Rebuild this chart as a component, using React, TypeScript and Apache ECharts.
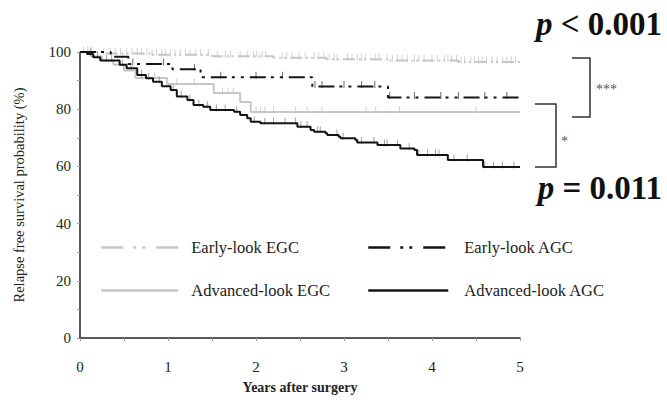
import React, { useEffect, useRef } from "react";
import * as echarts from "echarts";

// ---- data ----
const xTickLabels = [0, 1, 2, 3, 4, 5];
const yTickLabels = [0, 20, 40, 60, 80, 100];
const seriesNames = ["Early-look EGC", "Early-look AGC", "Advanced-look EGC", "Advanced-look AGC"];

// [years, survival %] step points (value holds until next time)
const earlyEGC: [number, number][] = [
  [0, 100], [0.25, 99.5], [0.8, 99], [1.5, 98.5], [2.2, 98], [2.8, 97.5], [3.5, 97], [4.3, 96.5], [5, 96.5],
];
const earlyAGC: [number, number][] = [
  [0, 100], [0.35, 98.3], [0.55, 95.8], [1.05, 94], [1.37, 91.2], [2.64, 87.9], [3.5, 84.1], [5, 84.1],
];
const advEGC: [number, number][] = [
  [0, 100], [0.12, 98.5], [0.25, 97], [0.38, 95.5], [0.5, 93.5], [0.63, 90.9], [0.99, 88.8],
  [1.52, 85.7], [1.82, 82.5], [1.94, 79], [5, 79],
];
const advAGC: [number, number][] = [
  [0, 100], [0.08, 99.3], [0.15, 98.2], [0.23, 97], [0.45, 95.5], [0.53, 94.3], [0.65, 92],
  [0.75, 90.8], [0.83, 89.6], [0.93, 88], [1.03, 86.7], [1.1, 84.4], [1.22, 83.2], [1.29, 81.5],
  [1.4, 80.9], [1.48, 79.7], [1.75, 79.1], [1.82, 78], [1.9, 76.8], [1.94, 75.6], [2.05, 75.1],
  [2.47, 73.9], [2.62, 72.7], [2.66, 72.1], [2.79, 71.6], [2.81, 71], [2.94, 70.4], [2.96, 69.8],
  [3.13, 69.2], [3.15, 68.4], [3.38, 67.5], [3.64, 66.3], [3.8, 65.7], [3.83, 64], [4.18, 62.2],
  [4.58, 59.8], [5, 59.8],
];

// censoring times (years)
const earlyEGCCens = [
  0.04, 0.09, 0.13, 0.27, 0.34, 0.4, 0.46, 0.53, 0.59, 0.65, 0.7, 0.76, 0.82, 0.87, 0.93, 0.97,
  1.03, 1.08, 1.14, 1.2, 1.25, 1.31, 1.37, 1.46, 1.56, 1.65, 1.71, 1.82, 1.9, 1.97, 2.01, 2.07,
  2.11, 2.3, 2.35, 2.41, 2.49, 2.56, 2.66, 2.71, 2.77, 2.83, 2.89, 2.92, 3.04, 3.09, 3.15, 3.2,
  3.24, 3.36, 3.4, 3.49, 3.55, 3.61, 3.66, 3.72, 3.8, 3.85, 3.91, 4.0, 4.06, 4.14, 4.18, 4.22,
  4.28, 4.33, 4.37, 4.44, 4.48, 4.53, 4.57, 4.62, 4.68, 4.74, 4.8, 4.85, 4.9, 4.95,
];
const earlyAGCCens = [0.6, 0.95, 1.3, 1.6, 2.0, 2.3, 2.67, 2.75, 3.0, 3.2, 3.35, 3.52, 3.8, 4.1, 4.3, 4.6, 4.85];
const advEGCCens = [0.7, 0.85, 1.1, 1.3, 1.62, 1.68, 1.74, 2.0, 2.05, 2.1, 2.2, 2.45, 2.58, 2.75, 3.25, 3.36, 3.63, 4.5];
const advAGCCens = [
  0.12, 0.2, 0.3, 0.36, 0.48, 0.58, 0.7, 0.78, 0.9, 1.06, 1.15, 1.25, 1.35, 1.45, 1.55, 1.65, 1.78,
  1.98, 2.1, 2.2, 2.33, 2.45, 2.51, 2.58, 2.7, 2.73, 2.92, 2.99, 3.2, 3.34, 3.46, 3.49, 3.61, 3.74,
  3.85, 3.95, 4.04, 4.08, 4.25, 4.4, 4.6, 4.7, 4.8, 4.93,
];

const FONT = "'Liberation Serif', 'Times New Roman', serif";
const GRAY = "#c6c6c6";
const BLACK = "#151515";
const LEGEND_DASH = [22, 10, 3, 6, 3, 11];

function survivalAt(curve: [number, number][], t: number): number {
  let s = curve[0][1];
  for (const [ti, si] of curve) {
    if (ti <= t) s = si;
    else break;
  }
  return s;
}

function censorSeries(name: string, curve: [number, number][], times: number[], color: string, z: number) {
  return {
    name,
    type: "scatter",
    data: times.map((t) => [t, survivalAt(curve, t)]),
    symbol: "rect",
    symbolSize: [1, 7],
    symbolOffset: [0, -2],
    itemStyle: { color },
    silent: true,
    z,
  };
}

export default function App() {
  const ref = useRef<HTMLDivElement>(null);
  useEffect(() => {
    document.body.style.margin = "0";
    if (!ref.current) return;
    const chart = echarts.init(ref.current, undefined, { renderer: "svg" });
    const legendBase = {
      orient: "vertical",
      top: 234,
      itemHeight: 14,
      itemGap: 26,
      selectedMode: false,
    };
    const hiddenSymbol = { opacity: 0 };
    const pStyle = (text: string) => ({
      text,
      align: "right",
      verticalAlign: "middle",
      font: `bold 33px ${FONT}`,
      fill: "#111",
      rich: { i: { fontStyle: "italic", fontWeight: "bold", fontSize: 33, fontFamily: FONT } },
    });
    const option: any = {
      animation: false,
      backgroundColor: "#fff",
      grid: { left: 80, right: 147, top: 52, bottom: 59 },
      xAxis: {
        type: "value",
        min: xTickLabels[0],
        max: xTickLabels[xTickLabels.length - 1],
        interval: 1,
        name: "Years after surgery",
        nameLocation: "middle",
        nameGap: 42,
        nameTextStyle: { fontFamily: FONT, fontSize: 14, fontWeight: "bold", color: "#222", lineHeight: 15 },
        axisLine: { lineStyle: { color: "#222", width: 1.5 } },
        axisTick: { show: true, length: 3, lineStyle: { color: "#999" } },
        minorTick: { show: true, splitNumber: 2, length: 3, lineStyle: { color: "#999" } },
        splitLine: { show: false },
        axisLabel: { fontFamily: FONT, fontSize: 15, color: "#222", margin: 21 },
      },
      yAxis: {
        type: "value",
        min: yTickLabels[0],
        max: yTickLabels[yTickLabels.length - 1],
        interval: 20,
        name: "Relapse free survival probability (%)",
        nameLocation: "middle",
        nameRotate: 90,
        nameGap: 54,
        nameTextStyle: { fontFamily: FONT, fontSize: 14.5, color: "#222" },
        axisLine: { show: true, lineStyle: { color: "#222", width: 1.5 } },
        axisTick: { show: true, length: 3, lineStyle: { color: "#999" } },
        minorTick: { show: true, splitNumber: 2, length: 3, lineStyle: { color: "#999" } },
        splitLine: { show: false },
        axisLabel: { fontFamily: FONT, fontSize: 15, color: "#222", margin: 9 },
      },
      legend: [
        {
          ...legendBase,
          left: 95,
          itemWidth: 77,
          data: [
            { name: seriesNames[0], itemStyle: hiddenSymbol, lineStyle: { type: LEGEND_DASH, width: 2.5, color: GRAY } },
            { name: seriesNames[2], itemStyle: hiddenSymbol, lineStyle: { type: "solid", width: 2.5, color: GRAY } },
          ],
          textStyle: { fontFamily: FONT, fontSize: 16.5, color: "#222", padding: [0, 0, 0, 8] },
        },
        {
          ...legendBase,
          left: 362,
          itemWidth: 80,
          data: [
            { name: seriesNames[1], itemStyle: hiddenSymbol, lineStyle: { type: LEGEND_DASH, width: 2.5, color: BLACK } },
            { name: seriesNames[3], itemStyle: hiddenSymbol, lineStyle: { type: "solid", width: 2.5, color: BLACK } },
          ],
          textStyle: { fontFamily: FONT, fontSize: 16.5, color: "#222", padding: [0, 0, 0, 11] },
        },
      ],
      series: [
        censorSeries("EGC early censored", earlyEGC, earlyEGCCens, GRAY, 1),
        censorSeries("EGC adv censored", advEGC, advEGCCens, GRAY, 1),
        {
          name: seriesNames[0],
          type: "line",
          step: "end",
          data: earlyEGC,
          symbol: "none",
          lineStyle: { color: GRAY, width: 2, type: [12, 4, 2, 3, 2, 4] },
          itemStyle: { color: GRAY },
          z: 2,
        },
        {
          name: seriesNames[2],
          type: "line",
          step: "end",
          data: advEGC,
          symbol: "none",
          lineStyle: { color: GRAY, width: 2 },
          itemStyle: { color: GRAY },
          z: 2,
        },
        censorSeries("AGC adv censored", advAGC, advAGCCens, "#8a8a8a", 3),
        censorSeries("AGC early censored", earlyAGC, earlyAGCCens, "#444", 3),
        {
          name: seriesNames[1],
          type: "line",
          step: "end",
          data: earlyAGC,
          symbol: "none",
          lineStyle: { color: BLACK, width: 2, type: [16, 5, 3, 6, 3, 6] },
          itemStyle: { color: BLACK },
          z: 4,
        },
        {
          name: seriesNames[3],
          type: "line",
          step: "end",
          data: advAGC,
          symbol: "none",
          lineStyle: { color: BLACK, width: 2 },
          itemStyle: { color: BLACK },
          z: 4,
        },
      ],
      graphic: [
        { type: "text", x: 662, y: 24, style: pStyle("{i|p} < 0.001") },
        { type: "text", x: 662, y: 188, style: pStyle("{i|p} = 0.011") },
        {
          type: "polyline",
          shape: { points: [[572, 58], [590, 58], [590, 117], [572, 117]] },
          style: { stroke: "#333", lineWidth: 1.5, fill: "none" },
        },
        {
          type: "polyline",
          shape: { points: [[535, 104], [556, 104], [556, 167], [535, 167]] },
          style: { stroke: "#333", lineWidth: 1.5, fill: "none" },
        },
        {
          type: "text",
          x: 596,
          y: 89,
          style: { text: "***", font: `14px ${FONT}`, fill: "#555", verticalAlign: "middle" },
        },
        {
          type: "text",
          x: 561,
          y: 141,
          style: { text: "*", font: `14px ${FONT}`, fill: "#555", verticalAlign: "middle" },
        },
      ],
    };
    chart.setOption(option);
    return () => chart.dispose();
  }, []);
  return <div ref={ref} style={{ width: 667, height: 400 }} />;
}
